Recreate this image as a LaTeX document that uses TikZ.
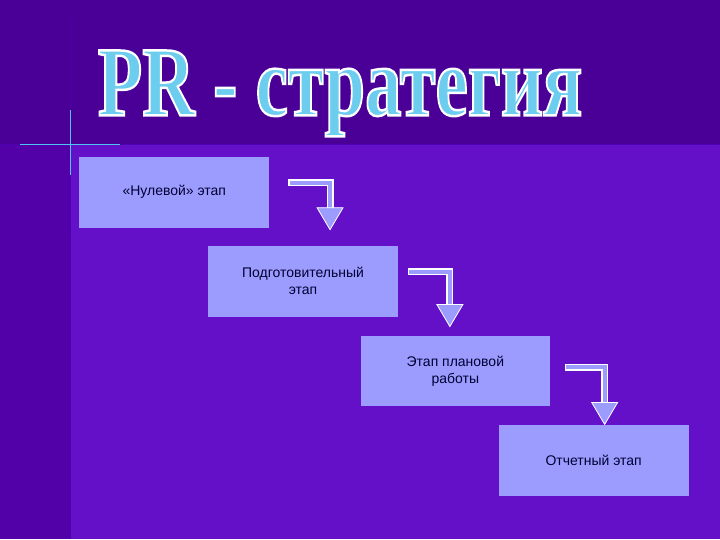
\documentclass[tikz,border=0pt]{standalone}
\usepackage{fontspec}
\setmainfont{Liberation Sans}
\newfontfamily\titlefont{Liberation Serif}
\usetikzlibrary{arrows.meta}
\definecolor{bgtop}{HTML}{4A0096}
\definecolor{bgmain}{HTML}{6410C8}
\definecolor{bgleft}{HTML}{5200A8}
\definecolor{boxfill}{HTML}{9C9CFF}
\definecolor{titleblue}{HTML}{6CCDEE}
\definecolor{txt}{HTML}{000033}
\newcommand{\ttl}[1]{\resizebox*{485pt}{86pt}{\titlefont\bfseries\special{pdf:code q 2 Tr #1 w 1 1 1 RG}PR - стратегия\special{pdf:code Q}}}
\tikzset{
  stage/.style={rectangle, fill=boxfill, minimum width=190pt, minimum height=71pt, align=center, text=txt, font=\fontsize{14}{17}\selectfont, inner sep=0pt},
  bentout/.style={line width=7pt, draw=white},
  bentin/.style={line width=4pt, draw=boxfill},
}
\begin{document}
\begin{tikzpicture}[x=1pt,y=-1pt]
\fill[bgmain] (0,0) rectangle (720,540);
\fill[bgtop] (0,0) rectangle (720,145);
\fill[bgleft] (0,145) rectangle (70,540);
\draw[violet!60!blue, line width=1pt] (0,145) -- (720,145);
\draw[violet!60!blue, line width=1pt] (70,20) -- (70,540);
\draw[cyan!70!white, line width=1pt] (20,145) -- (120,145);
\draw[cyan!70!white, line width=1pt] (70,110) -- (70,175);
% title
\node[text=titleblue, anchor=north] (title) at (340,47) {\ttl{0.25}};
% stages
\node[stage] (s1) at (174,192.5) {«Нулевой» этап};
\node[stage] (s2) at (303,281.5) {Подготовительный\\этап};
\node[stage] (s3) at (455.5,371.5) {Этап плановой\\работы};
\node[stage] (s4) at (594,461.5) {Отчетный этап};
% arrows
\foreach \n/\x/\y/\xe/\ye in {a/288/183/330/230, b/408/272/450/327, c/565/368/605/425}{
  \coordinate (\n s) at (\x,\y);
  \coordinate (\n c) at (\xe,\y);
  \coordinate (\n e) at (\xe,\ye);
  \draw[bentout] (\n s) -- (\n c) -- ([yshift=20]\n e);
  \draw[bentin] ([xshift=1.5]\n s) -- (\n c) -- ([yshift=20]\n e);
  \fill[boxfill, draw=white, line width=0.8pt] ([xshift=-13,yshift=22]\n e) -- ([xshift=13,yshift=22]\n e) -- (\n e) -- cycle;
}
\end{tikzpicture}
\end{document}
